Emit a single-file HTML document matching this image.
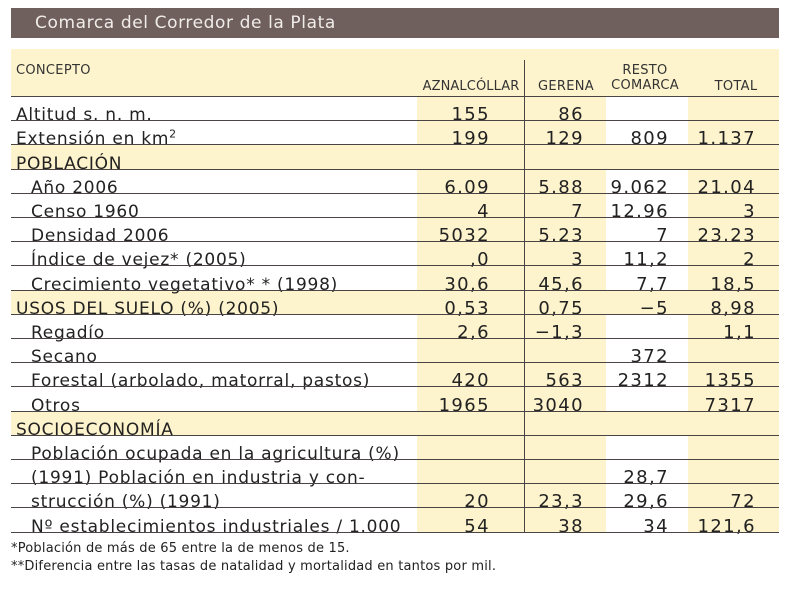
<!DOCTYPE html>
<html><head><meta charset="utf-8"><style>
body{margin:0;width:800px;height:592px;background:#fff;position:relative;overflow:hidden;font-family:"DejaVu Sans","Liberation Sans",sans-serif;color:#222}
div{position:absolute}
.t{font-size:17px;letter-spacing:0.75px;white-space:nowrap;line-height:17px}
.n{text-align:right;font-size:18px;line-height:18px}
.ln{left:11px;width:768px;height:0;border-top:1.5px solid #4a4444}
.cr{background:#fdf3cc}
.h{font-size:13px;letter-spacing:0.3px;color:#333;line-height:15px;text-align:center}
</style></head><body>
<div style="left:11px;top:8px;width:768px;height:30px;background:#6f605d"></div>
<div style="left:35px;top:13px;font-size:17px;color:#f0ecea;letter-spacing:0.6px;line-height:20px">Comarca del Corredor de la Plata</div>
<div class="cr" style="left:11px;top:49px;width:768px;height:48px"></div>
<div class="cr" style="left:417px;top:97px;width:189px;height:436px"></div>
<div class="cr" style="left:688px;top:97px;width:91px;height:436px"></div>
<div class="cr" style="left:11px;top:145px;width:768px;height:24px"></div>
<div class="cr" style="left:11px;top:291px;width:768px;height:24px"></div>
<div class="cr" style="left:11px;top:412px;width:768px;height:24px"></div>
<div style="left:524px;top:60px;width:0;height:472px;border-left:1.2px solid #4a4444"></div>
<div class="h" style="left:16px;top:63px;text-align:left">CONCEPTO</div>
<div class="h" style="left:417px;top:79px;width:108px;letter-spacing:0.1px">AZNALCÓLLAR</div>
<div class="h" style="left:530px;top:79px;width:72px">GERENA</div>
<div class="h" style="left:600px;top:63px;width:90px">RESTO<br>COMARCA</div>
<div class="h" style="left:700px;top:79px;width:72px">TOTAL</div>
<div id="rows"></div>
<div style="left:11px;top:540px;font-size:13px;line-height:18px;color:#222;letter-spacing:0.2px">*Población de más de 65 entre la de menos de 15.<br>**Diferencia entre las tasas de natalidad y mortalidad en tantos por mil.</div>
<script>
var R=[["Altitud s. n. m.",0,"155","86","",""],["Extensión en km<sup style='font-size:11px;line-height:0'>2</sup>",0,"199","129","809","1.137"],["POBLACIÓN",0,"","","",""],["Año 2006",1,"6.09","5.88","9.062","21.04"],["Censo 1960",1,"4","7","12.96","3"],["Densidad 2006",1,"5032","5.23","7","23.23"],["Índice de vejez*  (2005)",1,",0","3","11,2","2"],["Crecimiento vegetativo* *  (1998)",1,"30,6","45,6","7,7","18,5"],["USOS DEL SUELO (%) (2005)",0,"0,53","0,75","−5","8,98"],["Regadío",1,"2,6","−1,3","","1,1"],["Secano",1,"","","372",""],["Forestal (arbolado, matorral, pastos)",1,"420","563","2312","1355"],["Otros",1,"1965","3040","","7317"],["SOCIOECONOMÍA",0,"","","",""],["Población ocupada en la agricultura (%)",1,"","","",""],["(1991) Población en industria y con-",1,"","","28,7",""],["strucción (%) (1991)",1,"20","23,3","29,6","72"],["Nº establecimientos industriales / 1.000",1,"54","38","34","121,6"]];
var h="",rx=[490,584,669,756];
h+='<div class="ln" style="top:96px"></div>';
for(var i=0;i<R.length;i++){var b=97+24.2*(i+1);var tp=b-14;
h+='<div class="t" style="left:'+(R[i][1]?31:16)+'px;top:'+tp+'px">'+R[i][0]+'</div>';
for(var j=0;j<4;j++){if(R[i][2+j])h+='<div class="t n" style="left:'+(rx[j]-100)+'px;width:100px;top:'+(tp-1)+'px;letter-spacing:1.4px">'+R[i][2+j]+'</div>';}
h+='<div class="ln" style="top:'+(b-1)+'px"></div>';}
document.getElementById("rows").outerHTML=h;
</script>
</body></html>
